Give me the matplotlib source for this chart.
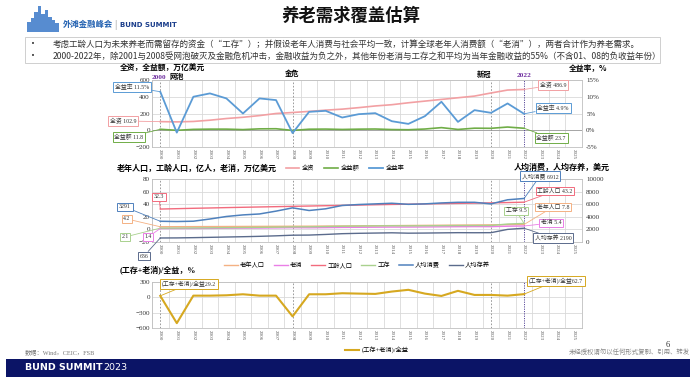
import numpy as np
import matplotlib
matplotlib.use("Agg")
import matplotlib.pyplot as plt
from matplotlib.patches import Rectangle

plt.rcParams['font.family'] = ['Liberation Serif', 'Noto Sans CJK SC', 'DejaVu Sans']
CJK = ['Noto Sans CJK SC', 'DejaVu Sans']

W, H = 700, 384

years = list(range(2000, 2026))
idx = list(range(23))  # 2000-2022 have data

# chart 1: 全资 / 全益额 (万亿美元), 全益率 (%)
total_assets = [102.9, 100, 105, 120, 140, 155, 175, 200, 212, 225, 240, 252, 270,
                290, 305, 328, 348, 368, 388, 408, 445, 480, 486.9]
fin_income = [11.8, -0.7, 10.5, 13.2, 13.3, 7.8, 16.6, 18.0, -1.8, 12.4, 13.9, 9.6,
              13.0, 14.8, 8.4, 6.2, 14.6, 31.3, 9.7, 24.5, 23.1, 38.4, 23.7]
fin_rate = [11.5, -0.7, 10.0, 11.0, 9.5, 5.0, 9.5, 9.0, -0.85, 5.5, 5.8, 3.8, 4.8,
            5.1, 2.7, 1.9, 4.2, 8.5, 2.5, 6.0, 5.2, 8.0, 4.9]

# chart 2: 人口 (亿人), 老消/工存 (万亿美元), 人均 (美元)
old_pop = [4.2, 4.3, 4.4, 4.5, 4.6, 4.7, 4.8, 4.9, 5.0, 5.1, 5.3, 5.4, 5.6, 5.8,
           6.0, 6.2, 6.4, 6.6, 6.8, 7.0, 7.2, 7.5, 7.8]
old_cons = [1.38, 1.40, 1.45, 1.64, 1.86, 2.02, 2.14, 2.40, 2.71, 2.55, 2.79, 3.13,
            3.33, 3.51, 3.69, 3.71, 3.87, 4.09, 4.28, 4.41, 4.36, 5.03, 5.4]
work_pop = [32.3, 32.9, 33.5, 34.0, 34.6, 35.1, 35.6, 36.1, 36.6, 37.1, 37.6, 38.1,
            38.6, 39.1, 39.6, 40.0, 40.5, 40.9, 41.3, 41.7, 42.1, 42.6, 43.2]
work_save = [2.05, 2.14, 2.31, 2.52, 2.73, 2.95, 3.20, 3.54, 3.95, 4.08, 4.51, 5.03,
             5.33, 5.55, 5.78, 5.60, 5.75, 5.93, 6.11, 6.13, 6.23, 8.52, 9.5]
pc_cons = [3291, 3250, 3300, 3650, 4050, 4300, 4450, 4900, 5420, 5000, 5270, 5800,
           5950, 6050, 6150, 5980, 6050, 6200, 6300, 6300, 6050, 6700, 6912]
pc_save = [636, 650, 690, 740, 790, 840, 900, 980, 1080, 1100, 1200, 1320, 1380,
           1420, 1460, 1400, 1420, 1450, 1480, 1470, 1480, 2000, 2190]

# chart 3: (工存+老消)/全益, %
cover = [29.2, -505, 33, 33, 40, 60, 33, 33, -373, 60, 60, 80, 73, 67, 113, 147,
         73, 27, 127, 47, 47, 33, 62.7]

C_ASSET = '#f2a0a3'
C_INC = '#70ad47'
C_RATE = '#5b9bd5'
C_OLD = '#f4b183'
C_OCONS = '#ea7fe6'
C_WPOP = '#f26b7d'
C_WSAVE = '#a9d18e'
C_PCC = '#4f81bd'
C_PCS = '#5b6b8c'
C_GOLD = '#d6a820'


def fx(x):
    return x / W


def fy(y):
    return 1 - y / H


fig = plt.figure(figsize=(7, 3.84), dpi=100)


def box_axes(l, t, r, b):
    return fig.add_axes([l / W, 1 - b / H, (r - l) / W, (b - t) / H])


def style(ax, ylim, yticks):
    ax.set_xlim(-0.5, 25.5)
    ax.set_ylim(*ylim)
    ax.set_yticks(yticks)
    ax.set_xticks(range(26))
    ax.set_xticklabels([str(y) for y in years], rotation=-90)
    ax.set_xticks(np.arange(-0.5, 26, 1), minor=True)
    ax.grid(True, which='minor', axis='x', color='#d9d9d9', lw=0.6)
    ax.grid(True, which='major', axis='y', color='#d9d9d9', lw=0.6)
    ax.set_axisbelow(True)
    ax.tick_params(which='both', length=0, labelsize=5, pad=1.5, colors='#333333')
    ax.tick_params(axis='x', labelsize=3.6, colors='#555555')
    for s in ax.spines.values():
        s.set_color('#bfbfbf')
        s.set_linewidth(0.6)


def events(ax):
    for i in [0, 8, 20]:
        ax.axvline(i, color='#8c8c8c', ls=(0, (2, 2)), lw=0.6, zorder=1)
    ax.axvline(22, color='#5a4a9a', ls=(0, (1.2, 1.2)), lw=0.7, zorder=1)


def note(ax, txt, i, v, tx, ty, col):
    ax.annotate(txt, xy=(i, v), xycoords='data', xytext=(fx(tx), fy(ty)),
                textcoords='figure fraction', ha='center', va='center',
                fontsize=4.2, color='#333333',
                bbox=dict(boxstyle='square,pad=0.3', fc='white', ec=col, lw=0.7),
                arrowprops=dict(arrowstyle='-', color=col, lw=0.6, shrinkA=0, shrinkB=0),
                annotation_clip=False, zorder=6)


# ---------------- header ----------------
sky = [(27, 4, 10), (31, 3, 14), (34, 4, 20), (38, 3, 26), (41, 4, 18), (45, 3, 22),
       (48, 4, 15), (52, 3, 12), (55, 4, 9)]
for x0, w0, h0 in sky:
    fig.patches.append(Rectangle((fx(x0), fy(32)), w0 / W, h0 / H, transform=fig.transFigure,
                                 color='#3a78c8', alpha=0.85, lw=0))
fig.text(fx(63), fy(25), '外滩金融峰会', family=CJK, weight='bold', fontsize=6,
         color='#1f5fb0', va='center')
fig.text(fx(114), fy(25), '|', family=CJK, fontsize=6, color='#888888', va='center')
fig.text(fx(120), fy(25), 'BUND SUMMIT', family=['DejaVu Sans'], weight='bold', fontsize=5,
         color='#1c3f8c', va='center')
fig.text(fx(351), fy(16), '养老需求覆盖估算', family=CJK, weight='bold', fontsize=12.5,
         ha='center', va='center', color='#111111')

fig.patches.append(Rectangle((fx(25), fy(63)), 635 / W, 26 / H, transform=fig.transFigure,
                             fc='white', ec='#c8c8c8', lw=0.6))
line1 = '考虑工龄人口为未来养老而需留存的资金（“工存”）；并假设老年人消费与社会平均一致，计算全球老年人消费额（“老消”），两者合计作为养老需求。'
line2 = '2000-2022年，除2001与2008受网泡破灭及金融危机冲击，金融收益为负之外，其他年份老消与工存之和平均为当年金融收益的55%（不含01、08的负收益年份）'
for yy, t in [(44, line1), (56, line2)]:
    fig.text(fx(31), fy(yy), '•', family=['DejaVu Sans'], fontsize=5, va='center', color='#333333')
    fig.text(fx(53), fy(yy), t, family=CJK, fontsize=6.15, va='center', color='#333333')

# ---------------- chart 1 ----------------
ax1 = box_axes(152, 80, 582, 147)
style(ax1, (-200, 600), [-200, 0, 200, 400, 600])
ax1.axhline(0, color='#a6a6a6', lw=0.7, zorder=1)
events(ax1)
l_asset, = ax1.plot(idx, total_assets, color=C_ASSET, lw=1.2)
l_inc, = ax1.plot(idx, fin_income, color=C_INC, lw=1.2)
ax1r = ax1.twinx()
ax1r.set_ylim(-5, 15)
ax1r.set_yticks([-5, 0, 5, 10, 15])
ax1r.set_yticklabels(['%d%%' % v for v in [-5, 0, 5, 10, 15]])
ax1r.tick_params(length=0, labelsize=5, pad=3, colors='#333333')
for s in ax1r.spines.values():
    s.set_visible(False)
l_rate, = ax1r.plot(idx, fin_rate, color=C_RATE, lw=1.3)

tr = ax1.get_xaxis_transform()
ax1.text(-0.1, 1.0, '2000', transform=tr, color='#7030a0', weight='bold', fontsize=5.2,
         ha='center', va='bottom')
ax1.text(0.55, 1.0, '网泡', transform=tr, family=CJK, weight='bold', fontsize=5.2,
         ha='left', va='bottom')
ax1.text(8, 1.05, '金危', transform=tr, family=CJK, weight='bold', fontsize=5.2,
         ha='center', va='bottom')
ax1.text(19.6, 1.03, '新冠', transform=tr, family=CJK, weight='bold', fontsize=5.2,
         ha='center', va='bottom')
ax1.text(22, 1.03, '2022', transform=tr, color='#7030a0', weight='bold', fontsize=5.2,
         ha='center', va='bottom')

note(ax1r, '全益率 11.5%', 0, fin_rate[0], 132, 87, C_RATE)
note(ax1, '全资 102.9', 0, total_assets[0], 123, 121, C_ASSET)
note(ax1, '全益额 11.8', 0, fin_income[0], 129, 137, C_INC)
note(ax1, '全资 486.9', 22, total_assets[22], 553, 85, C_ASSET)
note(ax1r, '全益率 4.9%', 22, fin_rate[22], 553, 108, C_RATE)
note(ax1, '全益额 23.7', 22, fin_income[22], 551, 138, C_INC)

fig.text(fx(120), fy(67), '全资，全益额，万亿美元', family=CJK, weight='bold', fontsize=5.6, va='center')
fig.text(fx(607), fy(69), '全益率，%', family=CJK, weight='bold', fontsize=5.6, va='center', ha='right')
ax1.legend([l_asset, l_inc, l_rate], ['全资', '全益额', '全益率'], loc='center',
           bbox_to_anchor=((345 - 152) / 430, (147 - 168) / 67), ncol=3, frameon=False,
           prop={'family': CJK, 'size': 4.5}, handlelength=2.2, columnspacing=1.6,
           handletextpad=0.4)

# ---------------- chart 2 ----------------
ax2 = box_axes(152, 179, 582, 242)
style(ax2, (-20, 80), [-20, 0, 20, 40, 60, 80])
events(ax2)
l_old, = ax2.plot(idx, old_pop, color=C_OLD, lw=1.0)
l_ocons, = ax2.plot(idx, old_cons, color=C_OCONS, lw=1.0)
l_wpop, = ax2.plot(idx, work_pop, color=C_WPOP, lw=1.0)
l_wsave, = ax2.plot(idx, work_save, color=C_WSAVE, lw=1.0)
ax2r = ax2.twinx()
ax2r.set_ylim(0, 10000)
ax2r.set_yticks([0, 2000, 4000, 6000, 8000, 10000])
ax2r.tick_params(length=0, labelsize=5, pad=3, colors='#333333')
for s in ax2r.spines.values():
    s.set_visible(False)
l_pcc, = ax2r.plot(idx, pc_cons, color=C_PCC, lw=1.1)
l_pcs, = ax2r.plot(idx, pc_save, color=C_PCS, lw=1.0)

note(ax2r, '3291', 0, pc_cons[0], 125, 207, C_PCC)
note(ax2, '32.3', 0, work_pop[0], 159, 197, C_WPOP)
note(ax2, '4.2', 0, old_pop[0], 127, 219, C_OLD)
note(ax2, '2.1', 0, work_save[0], 125, 237, C_WSAVE)
note(ax2, '1.4', 0, old_cons[0], 148, 237, C_OCONS)
note(ax2r, '636', 0, pc_save[0], 144, 256, C_PCS)
note(ax2r, '人均消费 6912', 22, pc_cons[22], 540, 176, C_PCC)
note(ax2, '工龄人口 43.2', 22, work_pop[22], 555, 191, C_WPOP)
note(ax2, '工存 9.5', 22, work_save[22], 516, 211, C_WSAVE)
note(ax2, '老年人口 7.8', 22, old_pop[22], 553, 207, C_OLD)
note(ax2, '老消 5.4', 22, old_cons[22], 551, 223, C_OCONS)
note(ax2r, '人均存养 2190', 22, pc_save[22], 553, 238, C_PCS)

fig.text(fx(117), fy(168), '老年人口，工龄人口，亿人，老消，万亿美元', family=CJK, weight='bold',
         fontsize=5.8, va='center')
fig.text(fx(610), fy(167), '人均消费，人均存养，美元', family=CJK, weight='bold',
         fontsize=5.8, va='center', ha='right')
ax2.legend([l_old, l_ocons, l_wpop, l_wsave, l_pcc, l_pcs],
           ['老年人口', '老消', '工龄人口', '工存', '人均消费', '人均存养'], loc='center',
           bbox_to_anchor=((357 - 152) / 430, (242 - 265) / 63), ncol=6, frameon=False,
           prop={'family': CJK, 'size': 4.5}, handlelength=2.2, columnspacing=1.4,
           handletextpad=0.4)

# ---------------- chart 3 ----------------
ax3 = box_axes(152, 282, 582, 328)
style(ax3, (-600, 300), [-600, -300, 0, 300])
events(ax3)
l_cov, = ax3.plot(idx, cover, color=C_GOLD, lw=1.5)
note(ax3, '(工存+老消)/全益29.2', 0, cover[0], 189, 284, C_GOLD)
note(ax3, '(工存+老消)/全益62.7', 22, cover[22], 556, 281, C_GOLD)
fig.text(fx(120), fy(270), '(工存+老消)/全益，%', family=['Liberation Serif', 'Noto Sans CJK SC'],
         weight='bold', fontsize=5.8, va='center')
ax3.legend([l_cov], ['(工存+老消)/全益'], loc='center',
           bbox_to_anchor=((377 - 152) / 430, (328 - 350) / 46), frameon=False,
           prop={'family': ['Liberation Serif', 'Noto Sans CJK SC'], 'size': 4.5},
           handlelength=2.2, handletextpad=0.4)

# ---------------- footer ----------------
fig.text(fx(25), fy(352), '数据：Wind，CEIC，FSB', family=['Liberation Serif', 'Noto Sans CJK SC'],
         fontsize=4.5, color='#777777', va='center')
fig.text(fx(690), fy(352), '未经授权请勿以任何形式复制、引用、转发', family=CJK, fontsize=4.6,
         color='#888888', va='center', ha='right')
fig.text(fx(668), fy(345), '6', fontsize=6, color='#333333', va='center', ha='center')
fig.patches.append(Rectangle((fx(6), fy(377)), 684 / W, 18 / H, transform=fig.transFigure,
                             color='#0b1466', lw=0))
fig.text(fx(25), fy(368), 'BUND SUMMIT', family=['DejaVu Sans'], weight='bold', fontsize=6.8,
         color='white', va='center')
fig.text(fx(103), fy(368), '2023', family=['DejaVu Sans'], fontsize=6.8, color='white', va='center')

fig.savefig('out.png', dpi=100)
